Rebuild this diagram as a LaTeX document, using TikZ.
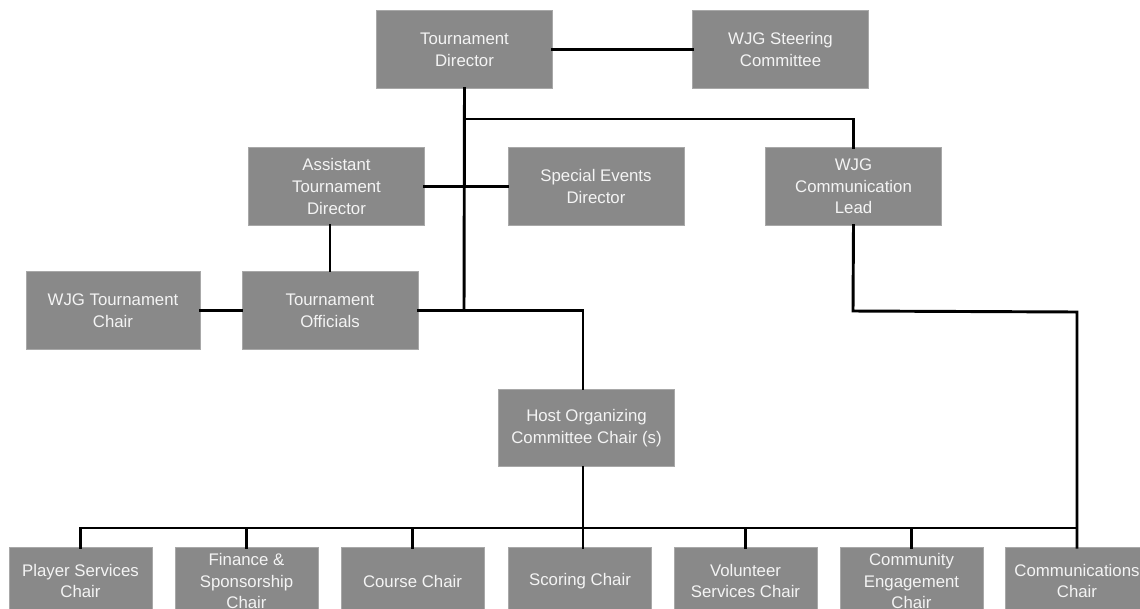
\documentclass[tikz,border=0pt]{standalone}
\usepackage{fontspec}
\setmainfont{Liberation Sans}
\definecolor{boxfill}{HTML}{898989}
\definecolor{boxedge}{HTML}{A8A8A8}
\definecolor{boxtext}{HTML}{F4F4F4}
\begin{document}
\begin{tikzpicture}[x=0.75pt,y=-0.75pt,
  orgbox/.style={draw=boxedge,line width=0.6pt,fill=boxfill,text=boxtext,align=center,
    inner sep=0pt,minimum width=132pt,minimum height=58pt,
    font=\fontsize{12.6}{16.2}\selectfont},
  lowbox/.style={orgbox,minimum width=107.25pt,minimum height=50pt},
  link/.style={line width=2.2pt,line cap=rect}]
\useasboundingbox (0,0) rectangle (1140,608);
\fill[white] (0,0) rectangle (1140,608);
% top
\node[orgbox] (td) at (464.5,49.5) {Tournament\\Director};
\node[orgbox] (steer) at (780.5,49.5) {WJG Steering\\Committee};
% second level
\node[orgbox] (asst) at (336.5,186.5) {Assistant\\Tournament\\Director};
\node[orgbox] (special) at (596,186.5) {Special Events\\Director};
\node[orgbox] (commlead) at (853.5,186.5) {WJG\\Communication\\Lead};
% third level
\node[orgbox,minimum width=130.5pt,minimum height=59pt] (wjgtc) at (113,310.5) {WJG Tournament\\Chair};
\node[orgbox,minimum height=59pt] (off) at (330,310.5) {Tournament\\Officials};
% host
\node[orgbox] (host) at (586.5,428) {Host Organizing\\Committee Chair (s)};
% bottom row
\node[lowbox] (player) at (80.5,581) {Player Services\\Chair};
\node[lowbox] (finance) at (246.5,581) {Finance \&\\Sponsorship\\Chair};
\node[lowbox] (course) at (412.5,581) {Course Chair};
\node[lowbox] (scoring) at (580,581) {Scoring Chair};
\node[lowbox] (volunteer) at (745.5,581) {Volunteer\\Services Chair};
\node[lowbox] (community) at (911.5,581) {Community\\Engagement\\Chair};
\node[lowbox] (comms) at (1077,581) {Communications\\Chair};
% helper coordinates
\coordinate (trunkend) at (464,310.5);
\coordinate (tdsplit) at (464,119);
\coordinate (hostx) at (583,310.5);
\coordinate (bus) at (583,528);
\coordinate (commturn) at (853,311);
\coordinate (commright) at (1077,312);
% connectors
\draw[link] (td.east) -- (steer.west);
\draw[link] (td.south) -- (trunkend);
\draw[link] (tdsplit) -| (commlead.north);
\draw[link] (asst.east) -- (special.west);
\draw[link] (off.north |- asst.south) -- (off.north);
\draw[link] (wjgtc.east) -- (off.west);
\draw[link] (off.east) -- (hostx) -- (hostx |- host.north);
\draw[link] (hostx |- host.south) -- (hostx |- scoring.north);
\draw[link] (player.north |- bus) -- (comms.north |- bus);
\draw[link] (player.north) -- (player.north |- bus);
\draw[link] (finance.north) -- (finance.north |- bus);
\draw[link] (course.north) -- (course.north |- bus);
\draw[link] (volunteer.north) -- (volunteer.north |- bus);
\draw[link] (community.north) -- (community.north |- bus);
\draw[link] (commlead.south) -- (commturn) -- (commright) -- (comms.north);
\end{tikzpicture}
\end{document}
